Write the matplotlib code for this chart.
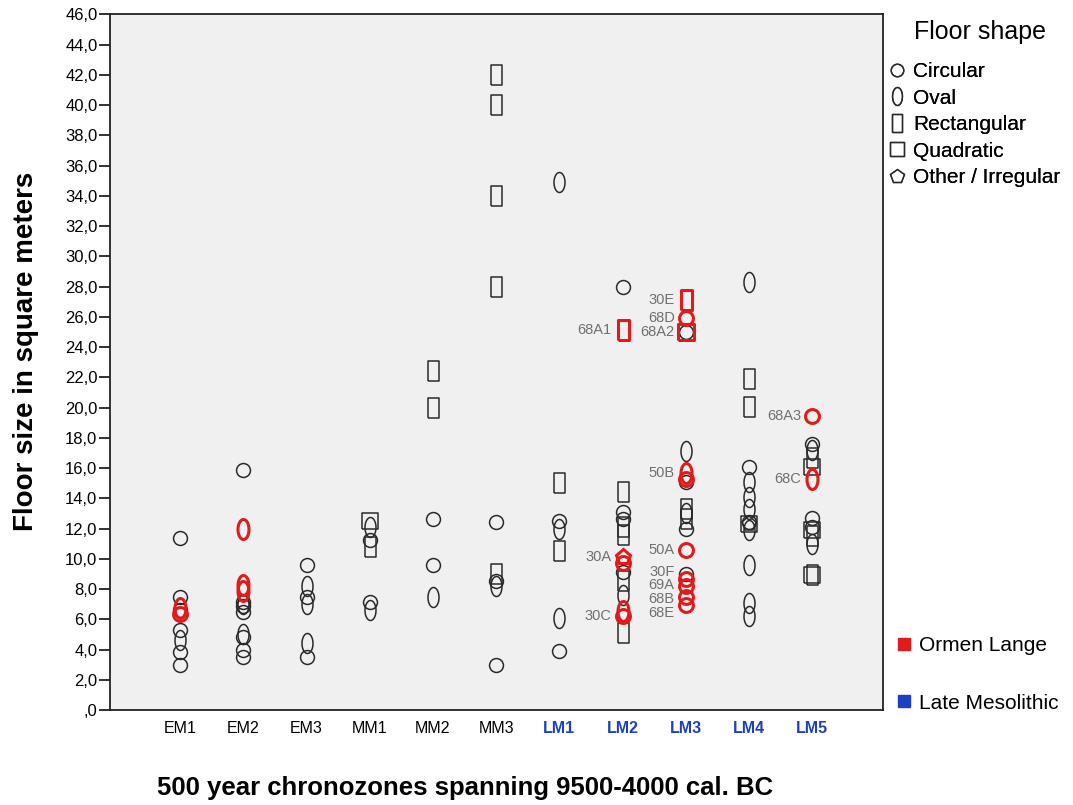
#!/usr/bin/env python3
# Floor size per 500-year chronozone, Mesolithic houses (SPSS-style scatter)
import numpy as np
import matplotlib
matplotlib.use('Agg')
import matplotlib.pyplot as plt
from matplotlib.lines import Line2D
from matplotlib.ticker import FuncFormatter, MultipleLocator

plt.rcParams['font.family'] = ['Liberation Sans', 'DejaVu Sans']

#------------------------------------------------------------------------------
# data
#------------------------------------------------------------------------------
zones = ['EM1', 'EM2', 'EM3', 'MM1', 'MM2', 'MM3',
         'LM1', 'LM2', 'LM3', 'LM4', 'LM5']
late = ['LM1', 'LM2', 'LM3', 'LM4', 'LM5']

# shape codes: c=circular, o=oval, r=rectangular, q=quadratic, p=other
# ordinary houses (black)
zone_blk = (['EM1'] * 7 + ['EM2'] * 9 + ['EM3'] * 6 + ['MM1'] * 6 +
            ['MM2'] * 5 + ['MM3'] * 9 + ['LM1'] * 7 + ['LM2'] * 10 +
            ['LM3'] * 8 + ['LM4'] * 14 + ['LM5'] * 11)
size_blk = [11.35, 7.5, 6.6, 5.3, 4.6, 3.85, 3.0,
            15.9, 7.15, 7.0, 6.85, 6.5, 5.0, 4.8, 3.95, 3.5,
            9.6, 8.2, 7.5, 7.0, 4.4, 3.5,
            12.5, 12.1, 11.25, 10.8, 7.15, 6.6,
            22.4, 20.0, 12.6, 9.6, 7.5,
            42.0, 40.0, 34.0, 28.0, 12.45, 9.0, 8.5, 8.2, 3.0,
            34.9, 15.0, 12.5, 12.0, 10.5, 6.1, 3.9,
            28.0, 14.4, 13.1, 12.6, 12.1, 11.6, 9.1, 8.5, 7.6, 5.1,
            25.0, 17.1, 15.1, 13.3, 13.0, 12.6, 12.0, 9.0,
            28.3, 21.9, 20.05, 16.1, 15.1, 14.1, 13.3, 12.3, 12.45, 12.3,
            11.9, 9.6, 7.1, 6.2,
            17.6, 17.2, 16.7, 16.1, 12.7, 12.1, 11.9, 11.5, 11.0, 8.95, 8.95]
shape_blk = ['c', 'c', 'c', 'c', 'o', 'c', 'c',
             'c', 'c', 'o', 'c', 'c', 'o', 'c', 'c', 'c',
             'c', 'o', 'c', 'o', 'o', 'c',
             'q', 'o', 'c', 'r', 'c', 'o',
             'r', 'r', 'c', 'c', 'o',
             'r', 'r', 'r', 'r', 'c', 'r', 'c', 'o', 'c',
             'o', 'r', 'c', 'o', 'r', 'o', 'c',
             'c', 'r', 'c', 'c', 'r', 'r', 'c', 'r', 'o', 'r',
             'c', 'o', 'c', 'r', 'o', 'r', 'c', 'c',
             'o', 'r', 'r', 'c', 'o', 'o', 'o', 'q', 'c', 'p',
             'o', 'o', 'o', 'o',
             'c', 'o', 'r', 'q', 'c', 'c', 'q', 'r', 'o', 'q', 'r']

# Ormen Lange houses (red), with their labels
zone_ol = ['EM1', 'EM1', 'EM2', 'EM2', 'EM2',
           'LM2', 'LM2', 'LM2', 'LM2', 'LM2',
           'LM3', 'LM3', 'LM3', 'LM3', 'LM3', 'LM3', 'LM3', 'LM3', 'LM3',
           'LM3', 'LM5', 'LM5']
size_ol = [6.75, 6.35, 12.0, 8.3, 7.9,
           25.1, 10.15, 9.75, 6.55, 6.2,
           27.1, 25.9, 25.0, 15.7, 15.3, 10.6, 8.65, 8.2, 7.5, 6.95,
           19.45, 15.3]
shape_ol = ['o', 'c', 'o', 'o', 'o',
            'r', 'p', 'c', 'o', 'c',
            'r', 'c', 'q', 'o', 'c', 'c', 'c', 'c', 'c', 'c',
            'c', 'o']
tag_ol = ['', '', '', '', '',
          '68A1', '30A', '', '', '30C',
          '30E', '68D', '68A2', '50B', '', '50A', '30F', '69A', '68B', '68E',
          '68A3', '68C']
# small vertical nudges (points) so the stacked LM3 labels stay readable
nudge = {'30F': 5, '69A': 1, '68B': -1.5, '68E': -5.5}

shape_names = ['Circular', 'Oval', 'Rectangular', 'Quadratic',
               'Other / Irregular']

#------------------------------------------------------------------------------
# marker shapes
#------------------------------------------------------------------------------
t = np.linspace(0, 2 * np.pi, 60)
oval = np.column_stack([0.55 * np.cos(t), np.sin(t)])
rect = np.array([[-0.55, -1], [0.55, -1], [0.55, 1], [-0.55, 1], [-0.55, -1]])
square = np.array([[-1, -1], [1, -1], [1, 1], [-1, 1], [-1, -1]])
mk = {'c': ('o', 10), 'o': (oval, 14.4), 'r': (rect, 14.4),
      'q': (square, 11.5), 'p': ('p', 11)}

BLK = '#2a2a2a'
RED = '#e01b1b'
BLUE = '#1d3fc4'

fig = plt.figure(figsize=(10.73, 8.05), dpi=100)
ax = fig.add_axes([110 / 1073, 1 - 710 / 805, 773 / 1073, 695.5 / 805])
ax.set_facecolor('#f1f0f1')

xpos = {z: i for i, z in enumerate(zones)}

for z, v, s in zip(zone_blk, size_blk, shape_blk):
    m, ms = mk[s]
    ax.plot(xpos[z], v, linestyle='none', marker=m, markersize=ms,
            markerfacecolor='none', markeredgecolor=BLK, markeredgewidth=1.1)

for z, v, s, tg in zip(zone_ol, size_ol, shape_ol, tag_ol):
    m, ms = mk[s]
    ax.plot(xpos[z], v, linestyle='none', marker=m, markersize=ms,
            markerfacecolor='none', markeredgecolor=RED, markeredgewidth=2.2,
            zorder=3)
    if tg:
        ax.annotate(tg, (xpos[z], v), xytext=(-8, nudge.get(tg, 0)),
                    textcoords='offset points', ha='right', va='center',
                    fontsize=10.5, color='#707070')

ax.set_xlim(-1.11, len(zones) - 1 + 1.12)
ax.set_ylim(0, 46)
ax.yaxis.set_major_locator(MultipleLocator(2))
ax.yaxis.set_major_formatter(FuncFormatter(
    lambda v, p: ',0' if v == 0 else '{:.1f}'.format(v).replace('.', ',')))
ax.tick_params(axis='y', length=8, width=1.3, labelsize=12, pad=1,
               color='#222222')
ax.set_xticks(range(len(zones)))
ax.set_xticklabels(zones)
ax.tick_params(axis='x', length=0, labelsize=11.5, pad=8)
for lbl in ax.get_xticklabels():
    if lbl.get_text() in late:
        lbl.set_color(BLUE)
        lbl.set_fontweight('bold')
for sp in ax.spines.values():
    sp.set_linewidth(1.3)
    sp.set_color('#222222')

ax.set_ylabel('Floor size in square meters', fontsize=20, fontweight='bold')
ax.yaxis.set_label_coords(-0.092, 0.515)
ax.set_xlabel('500 year chronozones spanning 9500-4000 cal. BC',
              fontsize=18.5, fontweight='bold')
ax.xaxis.set_label_coords(0.459, -0.095)

# legends
fig.text(980 / 1073, 1 - 32 / 805, 'Floor shape', ha='center', va='center',
         fontsize=18)
hs = [Line2D([], [], linestyle='none', marker=mk[s][0],
             markersize=mk[s][1] * 0.9, markerfacecolor='none',
             markeredgecolor=BLK, markeredgewidth=1.0)
      for s in ['c', 'o', 'r', 'q', 'p']]
leg1 = fig.legend(hs, shape_names, loc='upper left',
                  bbox_to_anchor=(886 / 1073, 1 - 60 / 805), frameon=False,
                  fontsize=15, handlelength=0.9, handletextpad=0.3,
                  labelspacing=0.36, borderaxespad=0, borderpad=0.1)
fig.add_artist(leg1)

hs2 = [Line2D([], [], linestyle='none', marker='s', markersize=9,
              markerfacecolor=c, markeredgecolor=c) for c in [RED, BLUE]]
fig.legend(hs2, ['Ormen Lange', 'Late Mesolithic'], loc='upper left',
           bbox_to_anchor=(886 / 1073, 1 - 628 / 805), frameon=False,
           fontsize=15, handlelength=0.9, handletextpad=0.3,
           labelspacing=1.84, borderaxespad=0)

plt.savefig('out.png', dpi=100)
plt.close('all')
